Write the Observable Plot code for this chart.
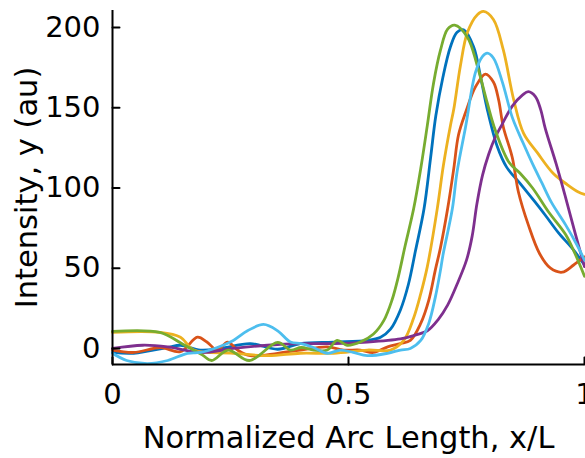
<!DOCTYPE html>
<html><head><meta charset="utf-8">
<script src="https://cdn.jsdelivr.net/npm/d3@7"></script>
<script src="https://cdn.jsdelivr.net/npm/@observablehq/plot@0.6"></script>
<style>html,body{margin:0;padding:0;background:#fff;overflow:hidden} svg{display:block}</style>
</head><body><div id="chart"></div>
<script>
const seriesNames = ["Sample 1", "Sample 2", "Sample 3", "Sample 4", "Sample 5", "Sample 6"];
const seriesColors = ["#0072BD", "#D95319", "#EDB120", "#7E2F8E", "#77AC30", "#4DBEEE"];

const s1 = [[0,-2.5],[0.045,-3],[0.117,0.6],[0.144,2],[0.186,-1],[0.229,0],[0.292,3],[0.35,-0.5],[0.398,3],[0.468,4],[0.54,5],[0.568,7],[0.589,12],[0.61,24],[0.627,40],[0.642,61],[0.66,87],[0.674,119],[0.685,145],[0.70,169],[0.716,188],[0.73,197],[0.744,198.5],[0.765,188],[0.78,169],[0.794,149],[0.815,126],[0.835,113],[0.866,102],[0.896,91],[0.917,83],[0.945,72],[0.975,62],[1,52]];
const s2 = [[0,-1],[0.045,-2.5],[0.102,0.6],[0.144,-2],[0.18,7],[0.2,4],[0.222,-1],[0.244,4],[0.265,-1],[0.292,-4.5],[0.35,-3],[0.398,-1],[0.455,1],[0.49,-1],[0.525,-1],[0.553,-2.5],[0.583,1],[0.61,3],[0.631,5],[0.653,15.6],[0.67,30],[0.684,49],[0.695,63],[0.71,87],[0.723,112],[0.733,133],[0.748,147],[0.769,163],[0.79,171],[0.807,166],[0.818,155],[0.828,138],[0.847,119],[0.86,97.5],[0.881,77],[0.905,59],[0.928,50],[0.953,47.5],[0.977,52],[1,57]];
const s3 = [[0,10],[0.1,10],[0.144,7],[0.172,-1],[0.256,-3],[0.33,-4.5],[0.398,-3],[0.468,-3],[0.54,-1],[0.589,-1],[0.617,5],[0.638,19],[0.653,34],[0.667,51],[0.688,87],[0.701,114],[0.716,139],[0.723,149],[0.737,176],[0.752,197],[0.773,208],[0.786,210],[0.807,205],[0.828,186],[0.85,155],[0.871,134],[0.90,122],[0.934,109],[0.964,102],[0.987,97.5],[1,96]];
const s4 = [[0,0],[0.064,2],[0.117,1],[0.186,-2.5],[0.256,0],[0.328,2],[0.398,3],[0.468,3],[0.54,4],[0.61,6],[0.638,8],[0.667,11],[0.69,18],[0.71,27],[0.73,40],[0.75,55],[0.762,70],[0.772,90],[0.784,108],[0.797,121],[0.81,131],[0.826,140],[0.847,151],[0.869,158],[0.881,160],[0.896,157],[0.907,149],[0.917,137],[0.94,115],[0.96,94],[0.981,71],[1,51]];
const s5 = [[0,10.6],[0.1,10],[0.15,2.5],[0.19,-4],[0.21,-7.5],[0.245,-1],[0.29,-7.5],[0.35,3.75],[0.377,-1],[0.40,0.6],[0.426,-1],[0.455,-1],[0.476,5],[0.497,2],[0.525,4],[0.553,9],[0.575,17.5],[0.592,30],[0.605,44],[0.62,64],[0.638,87],[0.653,112],[0.667,139],[0.68,165],[0.695,186],[0.71,199],[0.725,201.5],[0.752,194],[0.773,176],[0.794,153],[0.811,136],[0.84,116],[0.864,109],[0.89,100],[0.924,85],[0.96,71],[0.98,59],[1,45]];
const s6 = [[0,-3],[0.03,-7.5],[0.074,-9.4],[0.117,-7.5],[0.159,-3],[0.186,-2.5],[0.222,0.6],[0.256,5],[0.286,11],[0.32,15],[0.35,11],[0.377,4],[0.40,3],[0.426,0.6],[0.455,-3],[0.483,-1],[0.51,-2.5],[0.54,-4.5],[0.583,-3],[0.61,-1],[0.631,0],[0.653,5],[0.67,15.6],[0.684,32],[0.695,49],[0.70,58],[0.72,87],[0.73,110],[0.748,138],[0.769,172],[0.784,182],[0.794,184],[0.807,181],[0.826,166],[0.847,144],[0.87,128],[0.89,115],[0.91,103],[0.93,91],[0.96,77],[0.985,64],[1,55]];

const xTicks = [0, 0.5, 1];
const yTicks = [0, 50, 100, 150, 200];
const xLabel = "Normalized Arc Length, x/L";
const yLabel = "Intensity, y (au)";

const seriesData = [s1, s2, s3, s4, s5, s6];
const data = [];
seriesData.forEach((pts, i) => pts.forEach(([x, y]) => data.push({s: seriesNames[i], x, y})));

const tickShape = {draw(context, l) { context.moveTo(0, 0); context.lineTo(0, -l); }};

const plot = Plot.plot({
  width: 585, height: 458,
  marginLeft: 112, marginRight: 1, marginTop: 10, marginBottom: 94,
  x: {domain: [0, 1]},
  y: {domain: [-10, 210.6]},
  color: {domain: seriesNames, range: seriesColors},
  style: {fontFamily: "DejaVu Sans", fontSize: "29px", color: "#000", background: "#fff", overflow: "visible"},
  marks: [
    Plot.line(data, {x: "x", y: "y", z: "s", stroke: "s", strokeWidth: 2.8, curve: "catmull-rom"}),
    Plot.ruleX([0], {y1: -10, y2: 210.6, stroke: "#000", strokeWidth: 2}),
    Plot.ruleY([-10], {x1: 0, x2: 1, stroke: "#000", strokeWidth: 2}),
    Plot.vector(yTicks, {x: 0, y: d => d, length: 7, rotate: 90, anchor: "start", shape: tickShape, stroke: "#000", strokeWidth: 2}),
    Plot.vector(xTicks, {x: d => d, y: -10, length: 7, rotate: 0, anchor: "start", shape: tickShape, stroke: "#000", strokeWidth: 2}),
    Plot.axisY({ticks: yTicks, tickSize: 0, tickPadding: 12, fontSize: 29, label: null}),
    Plot.axisX({ticks: xTicks, tickSize: 0, tickPadding: 19, fontSize: 29, tickFormat: d => String(d), label: null}),
    Plot.axisY({ticks: [], tickSize: 0, fontSize: 30.5, label: yLabel, labelAnchor: "center", labelOffset: 97, labelArrow: "none"}),
    Plot.axisX({ticks: [], tickSize: 0, fontSize: 30.5, label: xLabel, labelAnchor: "center", labelOffset: 83, labelArrow: "none", dx: 5})
  ]
});
document.getElementById("chart").appendChild(plot);
</script>
</body></html>
